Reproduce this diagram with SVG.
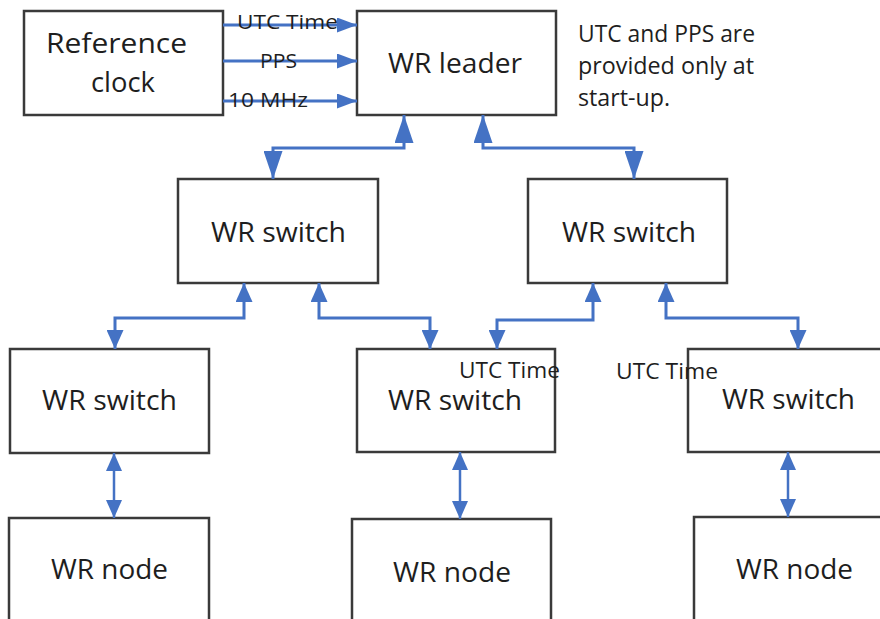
<svg xmlns="http://www.w3.org/2000/svg" width="880" height="619" viewBox="0 0 880 619">
<style>
.box{fill:#fff;stroke:#3a3a3a;stroke-width:2.5}
.lbl{font-family:"Open Sans","DejaVu Sans",sans-serif;font-size:27px;fill:#1e1e1e}
.sm{font-family:"Open Sans","DejaVu Sans",sans-serif;fill:#1e1e1e}
.c{fill:none;stroke:#4472C4;stroke-width:3;stroke-linejoin:miter}
.cv{fill:none;stroke:#4472C4;stroke-width:2.5}
</style>
<defs>
<marker id="mA" markerUnits="userSpaceOnUse" markerWidth="28" markerHeight="19" refX="28" refY="9.5" orient="auto-start-reverse"><path d="M0,0 L28,9.5 L0,19 z" fill="#4472C4"/></marker>
<marker id="mB" markerUnits="userSpaceOnUse" markerWidth="19" markerHeight="17" refX="19" refY="8.5" orient="auto-start-reverse"><path d="M0,0 L19,8.5 L0,17 z" fill="#4472C4"/></marker>
<marker id="mC" markerUnits="userSpaceOnUse" markerWidth="18" markerHeight="16" refX="18" refY="8" orient="auto-start-reverse"><path d="M0,0 L18,8 L0,16 z" fill="#4472C4"/></marker>
<marker id="mD" markerUnits="userSpaceOnUse" markerWidth="20" markerHeight="15" refX="20" refY="7.5" orient="auto"><path d="M0,0 L20,7.5 L0,15 z" fill="#4472C4"/></marker>
</defs>
<rect width="880" height="619" fill="#fff"/>

<g id="refclock"><rect class="box" x="24" y="11" width="199" height="104"/>
<text class="lbl" x="46" y="53" textLength="141" lengthAdjust="spacingAndGlyphs">Reference</text>
<text class="lbl" x="91" y="92" textLength="64" lengthAdjust="spacingAndGlyphs">clock</text></g>

<g id="leader"><rect class="box" x="357" y="11" width="199" height="104"/>
<text class="lbl" x="388" y="73" textLength="134" lengthAdjust="spacingAndGlyphs">WR leader</text></g>

<g id="sw1"><rect class="box" x="178" y="179" width="200" height="104"/>
<text class="lbl" x="211" y="242" textLength="135" lengthAdjust="spacingAndGlyphs">WR switch</text></g>
<g id="sw2"><rect class="box" x="528" y="179" width="199" height="104"/>
<text class="lbl" x="562" y="242" textLength="134" lengthAdjust="spacingAndGlyphs">WR switch</text></g>
<g id="sw3"><rect class="box" x="10" y="349" width="199" height="104"/>
<text class="lbl" x="42" y="410" textLength="135" lengthAdjust="spacingAndGlyphs">WR switch</text></g>
<g id="sw4"><rect class="box" x="357" y="349" width="198" height="103"/>
<text class="lbl" x="388" y="410" textLength="134" lengthAdjust="spacingAndGlyphs">WR switch</text></g>
<g id="sw5"><rect class="box" x="688" y="349" width="199" height="103"/>
<text class="lbl" x="722" y="409" textLength="133" lengthAdjust="spacingAndGlyphs">WR switch</text></g>

<g id="node1"><rect class="box" x="9" y="518" width="200" height="110"/>
<text class="lbl" x="51" y="579" textLength="117" lengthAdjust="spacingAndGlyphs">WR node</text></g>
<g id="node2"><rect class="box" x="352" y="519" width="199" height="110"/>
<text class="lbl" x="393" y="582" textLength="118" lengthAdjust="spacingAndGlyphs">WR node</text></g>
<g id="node3"><rect class="box" x="694" y="517" width="199" height="110"/>
<text class="lbl" x="736" y="579" textLength="117" lengthAdjust="spacingAndGlyphs">WR node</text></g>

<g id="connectors">
<path class="c" d="M223,25 H357" marker-end="url(#mD)"/>
<path class="c" d="M223,61 H357" marker-end="url(#mD)"/>
<path class="c" d="M223,101 H357" marker-end="url(#mD)"/>
<path class="c" d="M404,115 V148 H273 V179" marker-start="url(#mA)" marker-end="url(#mA)"/>
<path class="c" d="M483,115 V148 H634 V179" marker-start="url(#mA)" marker-end="url(#mA)"/>
<path class="c" d="M244,283 V318 H115 V349" marker-start="url(#mB)" marker-end="url(#mB)"/>
<path class="c" d="M319,283 V318 H430 V349" marker-start="url(#mB)" marker-end="url(#mB)"/>
<path class="c" d="M593,283 V320 H497 V349" marker-start="url(#mB)" marker-end="url(#mB)"/>
<path class="c" d="M666,283 V318 H798 V349" marker-start="url(#mB)" marker-end="url(#mB)"/>
<path class="cv" d="M114,453 V518" marker-start="url(#mC)" marker-end="url(#mC)"/>
<path class="cv" d="M460,452 V519" marker-start="url(#mC)" marker-end="url(#mC)"/>
<path class="cv" d="M788,452 V517" marker-start="url(#mC)" marker-end="url(#mC)"/>
</g>

<g id="labels">
<text class="sm" font-size="19.5" x="237" y="29" textLength="101" lengthAdjust="spacingAndGlyphs">UTC Time</text>
<text class="sm" font-size="19.5" x="260" y="68" textLength="37" lengthAdjust="spacingAndGlyphs">PPS</text>
<text class="sm" font-size="19.5" x="228" y="107" textLength="80" lengthAdjust="spacingAndGlyphs">10 MHz</text>
<text class="sm" font-size="21" x="459" y="378" textLength="101" lengthAdjust="spacingAndGlyphs">UTC Time</text>
<text class="sm" font-size="21" x="616" y="379" textLength="102" lengthAdjust="spacingAndGlyphs">UTC Time</text>
</g>

<g id="note">
<text class="sm" font-size="23" x="578" y="42" textLength="177" lengthAdjust="spacingAndGlyphs">UTC and PPS are</text>
<text class="sm" font-size="23" x="578" y="74" textLength="176" lengthAdjust="spacingAndGlyphs">provided only at</text>
<text class="sm" font-size="23" x="578" y="106" textLength="92" lengthAdjust="spacingAndGlyphs">start-up.</text>
</g>
</svg>
